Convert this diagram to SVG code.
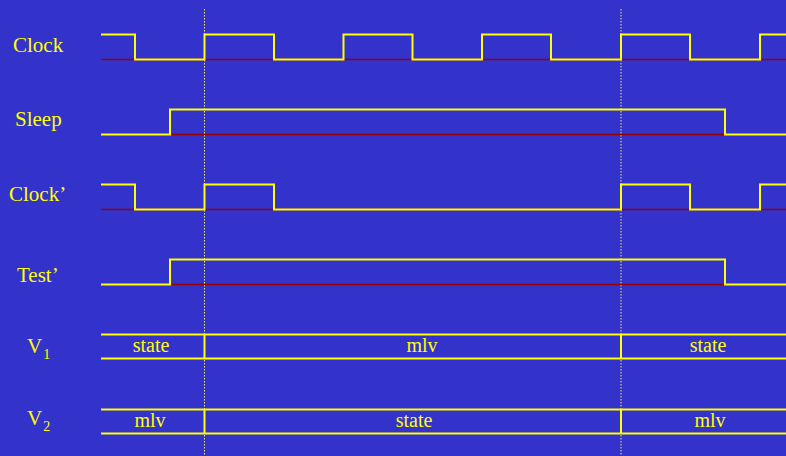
<svg xmlns="http://www.w3.org/2000/svg" width="786" height="456" viewBox="0 0 786 456">
<style>
.bg{fill:#3333CC}
.sig{fill:none;stroke:#FFFF00;stroke-width:2;stroke-linejoin:miter}
.base{fill:none;stroke:#990000;stroke-width:1.5}
.guide{fill:none;stroke:#E6E680;stroke-width:1;stroke-dasharray:1.5 1.5}
.lbl{font-family:"Liberation Serif","Times New Roman",serif;font-size:21px;fill:#FFFF00}
.sub{font-size:14px}
.val{font-family:"Liberation Serif","Times New Roman",serif;font-size:20px;fill:#FFFF00;text-anchor:middle}
</style>
<rect class="bg" x="0" y="0" width="786" height="456"/>
<g id="connectors">
<line class="guide" x1="204.5" y1="9" x2="204.5" y2="456"/>
<line class="guide" x1="621" y1="9" x2="621" y2="456"/>
</g>
<g id="clock">
<text class="lbl" x="13" y="52">Clock</text>
<line class="base" x1="101" y1="59.5" x2="786" y2="59.5"/>
<path class="sig" d="M101,34.5 H135 V59.5 H204.5 V34.5 H274 V59.5 H343.5 V34.5 H412.5 V59.5 H482 V34.5 H551 V59.5 H621 V34.5 H690 V59.5 H760 V34.5 H786"/>
</g>
<g id="sleep">
<text class="lbl" x="15" y="126">Sleep</text>
<line class="base" x1="170" y1="134.5" x2="725" y2="134.5"/>
<path class="sig" d="M101,134.5 H170 V109.5 H725 V134.5 H786"/>
</g>
<g id="clock-prime">
<text class="lbl" x="9" y="201">Clock’</text>
<line class="base" x1="101" y1="209.5" x2="786" y2="209.5"/>
<path class="sig" d="M101,184.5 H135 V209.5 H204.5 V184.5 H274 V209.5 H621 V184.5 H690 V209.5 H760 V184.5 H786"/>
</g>
<g id="test-prime">
<text class="lbl" x="17" y="282">Test’</text>
<line class="base" x1="170" y1="284.5" x2="725" y2="284.5"/>
<path class="sig" d="M101,284.5 H170 V259.5 H725 V284.5 H786"/>
</g>
<g id="v1">
<text class="lbl" x="27" y="353">V<tspan class="sub" dx="1" dy="6">1</tspan></text>
<path class="sig" d="M101,334.5 H786 M101,358.5 H786 M204.5,334.5 V358.5 M621,334.5 V358.5"/>
<text class="val" x="151" y="352">state</text>
<text class="val" x="422" y="352">mlv</text>
<text class="val" x="708" y="352">state</text>
</g>
<g id="v2">
<text class="lbl" x="27" y="425">V<tspan class="sub" dx="1" dy="6">2</tspan></text>
<path class="sig" d="M101,409.5 H786 M101,433.5 H786 M204.5,409.5 V433.5 M621,409.5 V433.5"/>
<text class="val" x="150" y="427">mlv</text>
<text class="val" x="414" y="427">state</text>
<text class="val" x="710" y="427">mlv</text>
</g>
</svg>
